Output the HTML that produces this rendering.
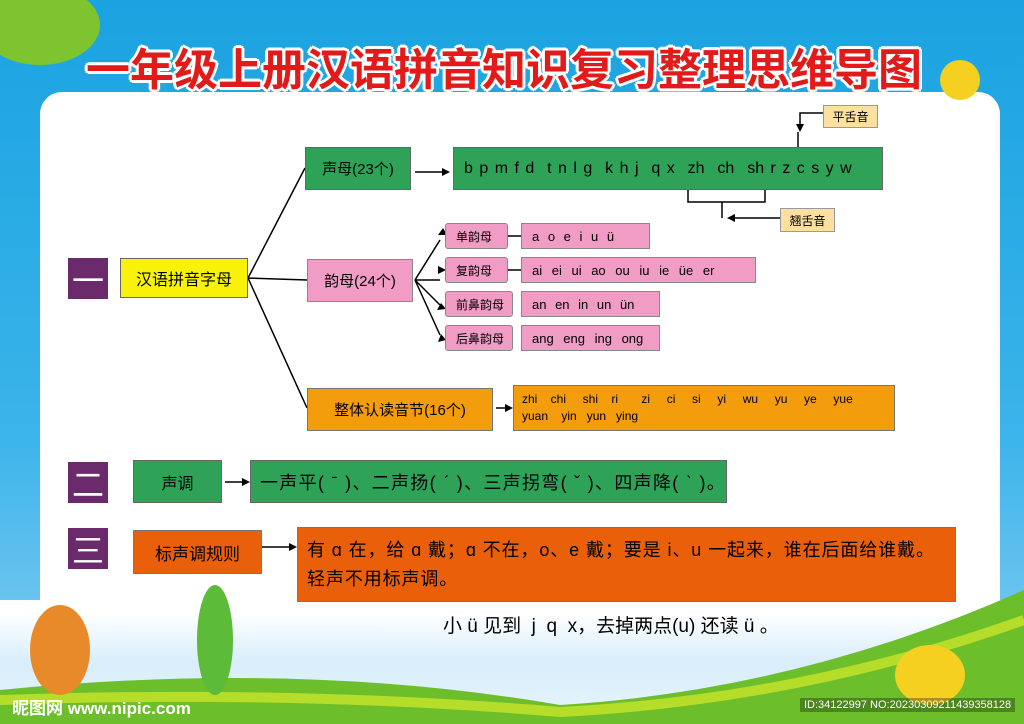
<!DOCTYPE html>
<html><head><meta charset="utf-8"><style>
body{margin:0;width:1024px;height:724px;overflow:hidden;position:relative;font-family:"Liberation Sans","Noto Sans CJK SC",sans-serif;background:linear-gradient(#1aa3e0,#3bb4ea 60%,#8ccff2);}
.a{position:absolute;box-sizing:border-box;display:flex;align-items:center;white-space:nowrap}
.c{justify-content:center}
.g{background:#2ea357;border:1px solid #666;}
.p{background:#f09cc5;border:1px solid #888;border-radius:3px;font-size:13px;padding-left:10px}
.o{background:#f39c0c;border:1px solid #777}
.r{background:#ea5f0a;border:1px solid #777}
.pu{background:#6a2a6b;color:#fff;font-size:32px;justify-content:center}
.t{background:#fde0a0;border:1px solid #999;font-size:12px;justify-content:center}
</style></head><body>
<div style="position:absolute;left:40px;top:92px;width:960px;height:560px;background:#fff;border-radius:22px"></div>
<div style="position:absolute;left:0;top:600px;width:1024px;height:124px;background:linear-gradient(#fff 10%,#d8eefb 50%,#e8f5fb)"></div>
<svg style="position:absolute;left:0;top:0" width="1024" height="724">
<path d="M0 724 L0 690 Q300 660 560 705 Q800 690 1024 590 L1024 724Z" fill="#6cbf2a"/>
<path d="M0 700 Q300 690 560 712 Q800 700 1024 620" stroke="#b5dd2a" stroke-width="10" fill="none"/>
<ellipse cx="40" cy="25" rx="60" ry="40" fill="#7ec42e"/>
<ellipse cx="60" cy="650" rx="30" ry="45" fill="#e88a2a"/>
<ellipse cx="215" cy="640" rx="18" ry="55" fill="#5dbb3a"/>
<ellipse cx="930" cy="675" rx="35" ry="30" fill="#f6d020"/>
<ellipse cx="960" cy="80" rx="20" ry="20" fill="#f6d020"/>
<g stroke="#000" stroke-width="1.5" fill="none">
<path d="M248 278 L305 168 M248 278 L307 280 M248 278 L307 408"/>
<path d="M415 172 H448 M415 280 L440 240 M415 280 H440 M415 280 L440 305 M415 280 L440 335 M508 236 H521 M508 270 H521 M225 482 H245 M262 547 H292 M496 408 H508"/>
<path d="M773 162 V150 H823 V162 M798 150 V132 M823 113 H800 V124"/>
<path d="M688 185 V202 H765 V185 M722 202 V218 M780 218 H730"/>
</g>
<g fill="#000">
<path d="M450 172 l-8 -4 v8z M800 132 l-4 -8 h8z M727 218 l8 -4 v8z M447 235 l-9 0 l5 -7z M446 270 l-8 -4 v8z M446 309 l-9 1 l4 -7z M446 340 l-8 2 l3 -8z M250 482 l-8 -4 v8z M297 547 l-8 -4 v8z M513 408 l-8 -4 v8z"/>
</g>
</svg>
<div style="position:absolute;left:86px;top:34px;font-size:44px;font-weight:bold;color:#e21a1a;text-shadow:3px 0 #fff,-3px 0 #fff,0 3px #fff,0 -3px #fff,2px 2px #fff,-2px -2px #fff,2px -2px #fff,-2px 2px #fff">一年级上册汉语拼音知识复习整理思维导图</div>
<div class="a pu" style="left:68px;top:258px;width:40px;height:41px">一</div>
<div class="a c" style="left:120px;top:258px;width:128px;height:40px;background:#f8f20a;border:1px solid #666;font-size:16px">汉语拼音字母</div>
<div class="a g c" style="left:305px;top:147px;width:106px;height:43px;font-size:15px">声母(23个)</div>
<div class="a g" style="left:453px;top:147px;width:430px;height:43px;font-size:16px;padding-left:10px;word-spacing:2px;letter-spacing:0px">b p m f d &nbsp;t n l g &nbsp;k h j &nbsp;q x &nbsp;zh &nbsp;ch &nbsp;sh r z c s y w</div>
<div class="a t" style="left:823px;top:105px;width:55px;height:23px">平舌音</div>
<div class="a t" style="left:780px;top:208px;width:55px;height:24px">翘舌音</div>
<div class="a p c" style="left:307px;top:259px;width:106px;height:43px;font-size:15px;padding:0;border-radius:0">韵母(24个)</div>
<div class="a p" style="left:445px;top:223px;width:63px;height:26px;font-size:12px">单韵母</div>
<div class="a p" style="left:445px;top:257px;width:63px;height:26px;font-size:12px">复韵母</div>
<div class="a p" style="left:445px;top:291px;width:68px;height:26px;font-size:12px">前鼻韵母</div>
<div class="a p" style="left:445px;top:325px;width:68px;height:26px;font-size:12px">后鼻韵母</div>
<div class="a p" style="left:521px;top:223px;width:129px;height:26px;border-radius:0;word-spacing:5px">a o e i u ü</div>
<div class="a p" style="left:521px;top:257px;width:235px;height:26px;border-radius:0;word-spacing:6px">ai ei ui ao ou iu ie üe er</div>
<div class="a p" style="left:521px;top:291px;width:139px;height:26px;border-radius:0;word-spacing:5px">an en in un ün</div>
<div class="a p" style="left:521px;top:325px;width:139px;height:26px;border-radius:0;word-spacing:6px">ang eng ing ong</div>
<div class="a o c" style="left:307px;top:388px;width:186px;height:43px;font-size:15px">整体认读音节(16个)</div>
<div class="a o" style="left:513px;top:385px;width:382px;height:46px;font-size:12px;padding-left:8px;line-height:17px;white-space:pre">zhi    chi     shi    ri       zi     ci     si     yi     wu     yu     ye     yue
yuan    yin   yun   ying</div>
<div class="a pu" style="left:68px;top:462px;width:40px;height:41px">二</div>
<div class="a g c" style="left:133px;top:460px;width:89px;height:43px;font-size:16px">声调</div>
<div class="a g" style="left:250px;top:460px;width:477px;height:43px;font-size:18px;padding-left:9px;letter-spacing:1.3px">一声平( ˉ )、二声扬( ˊ )、三声拐弯( ˇ )、四声降( ˋ )。</div>
<div class="a pu" style="left:68px;top:528px;width:40px;height:41px">三</div>
<div class="a r c" style="left:133px;top:530px;width:129px;height:44px;font-size:17px">标声调规则</div>
<div class="a r" style="left:297px;top:527px;width:659px;height:75px;font-size:18px;padding-left:9px;line-height:29px;display:block;padding-top:8px;letter-spacing:0.9px">有 ɑ 在，给 ɑ 戴；ɑ 不在，o、e 戴；要是 i、u 一起来，谁在后面给谁戴。<br>轻声不用标声调。</div>
<div style="position:absolute;left:443px;top:611px;font-size:19px">小 ü 见到 &nbsp;j &nbsp;q &nbsp;x，去掉两点(u) 还读 ü 。</div>
<div style="position:absolute;left:12px;top:694px;font-size:17px;color:#fff;font-weight:bold">昵图网 www.nipic.com</div>
<div style="position:absolute;left:800px;top:698px;font-size:11px;color:#fff;background:rgba(0,0,0,0.3);padding:1px 4px">ID:34122997 NO:20230309211439358128</div>
</body></html>
